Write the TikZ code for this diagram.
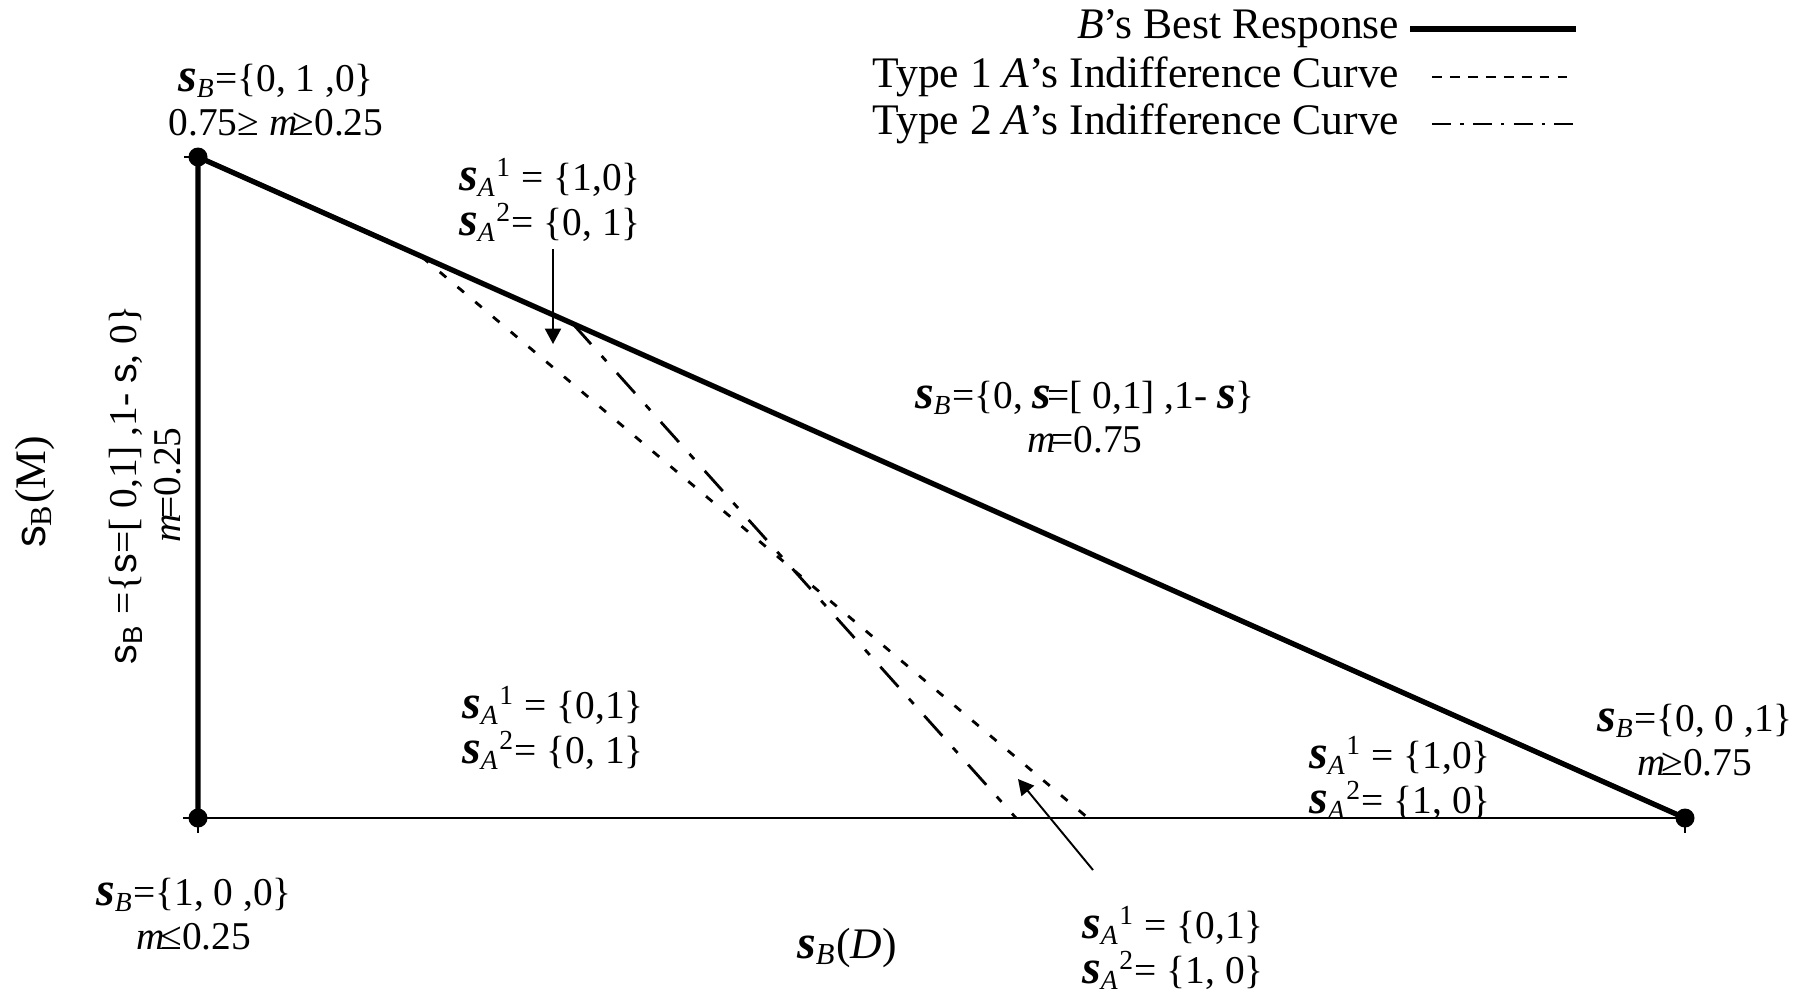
\documentclass[tikz,border=0pt]{standalone}
\usepackage{fontspec}
\setmainfont{Liberation Serif}
\newfontfamily\sansf{Liberation Sans}
\usetikzlibrary{arrows.meta}
\newcommand{\bsv}{{\fontsize{13.6}{12.6}\selectfont\bfseries\itshape s}}
\newcommand{\sBv}{\bsv\textsubscript{\itshape B}}
\newcommand{\sAv}[1]{\bsv\textsubscript{\itshape A}\textsuperscript{#1}}
\newcommand{\mv}{{\itshape m}\kern-0.12em}
\newcommand{\ssv}{{\sansf s}}
\tikzset{
  lbl/.style={font=\fontsize{11.2}{12.6}\selectfont, inner sep=0pt, align=center},
  legtext/.style={font=\fontsize{12.4}{12.6}\selectfont, inner sep=0pt, anchor=east},
  dotnode/.style={circle, fill=black, inner sep=0pt, minimum size=0.19cm},
  bestline/.style={line width=1.5pt},
  axisline/.style={line width=0.6pt},
  typeone/.style={line width=0.8pt, dash pattern=on 2.4pt off 4.2pt},
  typetwo/.style={line width=0.8pt, dash pattern=on 7.7pt off 4.5pt on 2pt off 4.5pt},
  legone/.style={line width=0.45pt, dash pattern=on 2.8pt off 2.3pt},
  legtwo/.style={line width=0.45pt, dash pattern=on 5.4pt off 2.6pt on 1pt off 2.6pt},
  pointer/.style={line width=0.55pt, -{Triangle[length=4.4pt,width=4.6pt]}}
}
\begin{document}
\begin{tikzpicture}[x=0.01cm,y=-0.01cm]
\useasboundingbox (0,0) rectangle (1814,993);
% corner points
\node[dotnode] (tl) at (198,157) {};
\node[dotnode] (bl) at (198,818) {};
\node[dotnode] (br) at (1685,818) {};
\coordinate (tltick) at (184,157);
\coordinate (axl) at (183,818);
\coordinate (bltick) at (198,833);
\coordinate (brtick) at (1685,833);
% axis and ticks
\draw[axisline] (axl) -- (br.center);
\draw[axisline] (tltick) -- (tl.center);
\draw[axisline] (bl.center) -- (bltick);
\draw[axisline] (br.center) -- (brtick);
% best response
\draw[bestline] (bl.center) -- (tl.center) -- (br.center);
% indifference curves
\coordinate (t1s) at (422,257);
\coordinate (t1e) at (1088,818);
\coordinate (t2s) at (573,324);
\coordinate (t2e) at (1016,818);
\draw[typeone] (t1s) -- (t1e);
\draw[typetwo] (t2s) -- (t2e);
% arrows
\coordinate (a1s) at (553,249);
\coordinate (a1e) at (553,344);
\coordinate (a2s) at (1093,870);
\coordinate (a2e) at (1018,779);
\draw[pointer] (a1s) -- (a1e);
\draw[pointer] (a2s) -- (a2e);
% labels
\node[lbl] (ltl) at (276,100) {\sBv=\{0, 1 ,0\}\\0.75≥ \mv≥0.25};
\node[lbl] (ltop) at (550,200) {\sAv{1} = \{1,0\}\\\sAv{2}= \{0, 1\}};
\node[lbl] (lmid) at (1085,417) {\sBv=\{0, \bsv\kern-0.1em=[ 0,1] ,1- \bsv\}\\\mv=0.75};
\node[lbl, rotate=90] (lvert) at (145,485) {\ssv\textsubscript{\sansf B} =\{\ssv=[ 0,1] ,1- \ssv, 0\}\\\mv=0.25};
\node[lbl, font=\fontsize{12.4}{12.6}\selectfont, rotate=90] (lyax) at (35,492) {\ssv\textsubscript{B}(M)};
\node[lbl] (lbot) at (553,728) {\sAv{1} = \{0,1\}\\\sAv{2}= \{0, 1\}};
\node[lbl] (lright) at (1400,778) {\sAv{1} = \{1,0\}\\\sAv{2}= \{1, 0\}};
\node[lbl] (lbr) at (1695,740) {\sBv=\{0, 0 ,1\}\\\mv≥0.75};
\node[lbl] (lbl) at (194,914) {\sBv=\{1, 0 ,0\}\\\mv≤0.25};
\node[lbl, font=\fontsize{12.4}{12.6}\selectfont] (lxax) at (847,948) {\sBv(\textit{D})};
\node[lbl] (lbr2) at (1173,948) {\sAv{1} = \{0,1\}\\\sAv{2}= \{1, 0\}};
% legend
\node[legtext] (leg1) at (1400,29) {\textit{B}’s Best Response};
\node[legtext] (leg2) at (1400,77) {Type 1 \textit{A}’s Indifference Curve};
\node[legtext] (leg3) at (1400,124) {Type 2 \textit{A}’s Indifference Curve};
\coordinate (g1a) at (1410,29);
\coordinate (g1b) at (1576,29);
\coordinate (g2a) at (1432,77);
\coordinate (g2b) at (1574,77);
\coordinate (g3a) at (1432,124);
\coordinate (g3b) at (1574,124);
\draw[bestline] (g1a) -- (g1b);
\draw[legone] (g2a) -- (g2b);
\draw[legtwo] (g3a) -- (g3b);
\end{tikzpicture}
\end{document}
